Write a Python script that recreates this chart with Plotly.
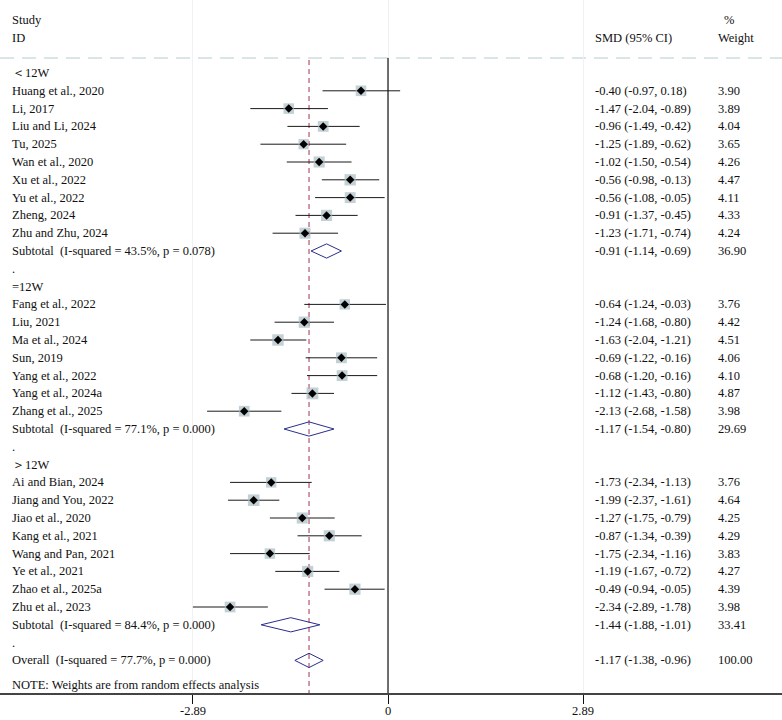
import numpy as np
import plotly.graph_objects as go

# ---------------- data ----------------
group_names = ["＜12W", "=12W", "＞12W"]

g1_studies = ["Huang et al., 2020", "Li, 2017", "Liu and Li, 2024", "Tu, 2025", "Wan et al., 2020",
              "Xu et al., 2022", "Yu et al., 2022", "Zheng, 2024", "Zhu and Zhu, 2024"]
g1_smd = [-0.40, -1.47, -0.96, -1.25, -1.02, -0.56, -0.56, -0.91, -1.23]
g1_lo = [-0.97, -2.04, -1.49, -1.89, -1.50, -0.98, -1.08, -1.37, -1.71]
g1_hi = [0.18, -0.89, -0.42, -0.62, -0.54, -0.13, -0.05, -0.45, -0.74]
g1_w = [3.90, 3.89, 4.04, 3.65, 4.26, 4.47, 4.11, 4.33, 4.24]

g2_studies = ["Fang et al., 2022", "Liu, 2021", "Ma et al., 2024", "Sun, 2019", "Yang et al., 2022",
              "Yang et al., 2024a", "Zhang et al., 2025"]
g2_smd = [-0.64, -1.24, -1.63, -0.69, -0.68, -1.12, -2.13]
g2_lo = [-1.24, -1.68, -2.04, -1.22, -1.20, -1.43, -2.68]
g2_hi = [-0.03, -0.80, -1.21, -0.16, -0.16, -0.80, -1.58]
g2_w = [3.76, 4.42, 4.51, 4.06, 4.10, 4.87, 3.98]

g3_studies = ["Ai and Bian, 2024", "Jiang and You, 2022", "Jiao et al., 2020", "Kang et al., 2021",
              "Wang and Pan, 2021", "Ye et al., 2021", "Zhao et al., 2025a", "Zhu et al., 2023"]
g3_smd = [-1.73, -1.99, -1.27, -0.87, -1.75, -1.19, -0.49, -2.34]
g3_lo = [-2.34, -2.37, -1.75, -1.34, -2.34, -1.67, -0.94, -2.89]
g3_hi = [-1.13, -1.61, -0.79, -0.39, -1.16, -0.72, -0.05, -1.78]
g3_w = [3.76, 4.64, 4.25, 4.29, 3.83, 4.27, 4.39, 3.98]

sub_labels = ["Subtotal  (I-squared = 43.5%, p = 0.078)",
              "Subtotal  (I-squared = 77.1%, p = 0.000)",
              "Subtotal  (I-squared = 84.4%, p = 0.000)"]
sub_smd = [-0.91, -1.17, -1.44]
sub_lo = [-1.14, -1.54, -1.88]
sub_hi = [-0.69, -0.80, -1.01]
sub_w = [36.90, 29.69, 33.41]

overall_label = "Overall  (I-squared = 77.7%, p = 0.000)"
overall_smd = -1.17
overall_lo = -1.38
overall_hi = -0.96
overall_w = 100.00

tick_vals = [-2.89, 0, 2.89]
tick_text = ["-2.89", "0", "2.89"]
note_text = "NOTE: Weights are from random effects analysis"

# ---------------- geometry ----------------
W, H = 782, 720
X0 = 388.0          # pixel of x=0
PXU = 67.5          # pixels per unit
ROW0 = 73.0
ROWH = 17.8
PLOT_BOTTOM = 693.0
FONT = "Liberation Serif"
FS = 12.5


def prow(p):
    return (p - ROW0) / ROWH


def pxx(p):
    return p / W


xr = [-X0 / PXU, (W - X0) / PXU]
yr = [prow(PLOT_BOTTOM), prow(0)]

groups = [
    (g1_studies, g1_smd, g1_lo, g1_hi, g1_w),
    (g2_studies, g2_smd, g2_lo, g2_hi, g2_w),
    (g3_studies, g3_smd, g3_lo, g3_hi, g3_w),
]

annotations = []


def add_text(px, row, text, anchor="left"):
    annotations.append(dict(x=pxx(px), xref="paper", y=row, yref="y", text=text,
                            showarrow=False, xanchor=anchor, yanchor="middle",
                            font=dict(family=FONT, size=FS, color="#111")))


def fmt_ci(e, l, h):
    return f"{e:.2f} ({l:.2f}, {h:.2f})"


LX = 10
SX = 593
WX = 716

# headers
add_text(LX, prow(20), "Study")
add_text(LX, prow(37.5), "ID")
add_text(SX, prow(37.5), "SMD (95% CI)")
add_text(722, prow(20), "%")
add_text(WX, prow(37.5), "Weight")

st_x, st_y, st_w = [], [], []
ci_x, ci_y = [], []
dia_rows = []

r = 0
for gi, (names, smd, lo, hi, w) in enumerate(groups):
    add_text(LX, r, group_names[gi])
    r += 1
    for n, e, l, h, ww in zip(names, smd, lo, hi, w):
        add_text(LX, r, n)
        add_text(SX, r, fmt_ci(e, l, h))
        add_text(WX, r, f"{ww:.2f}")
        st_x.append(e); st_y.append(r); st_w.append(ww)
        ci_x += [l, h, None]; ci_y += [r, r, None]
        r += 1
    add_text(LX, r, sub_labels[gi])
    add_text(SX, r, fmt_ci(sub_smd[gi], sub_lo[gi], sub_hi[gi]))
    add_text(WX, r, f"{sub_w[gi]:.2f}")
    dia_rows.append((sub_lo[gi], sub_smd[gi], sub_hi[gi], r))
    r += 1
    add_text(LX, r, ".")
    r += 1

add_text(LX, r, overall_label)
add_text(SX, r, fmt_ci(overall_smd, overall_lo, overall_hi))
add_text(WX, r, f"{overall_w:.2f}")
dia_rows.append((overall_lo, overall_smd, overall_hi, r))

add_text(LX, prow(685), note_text)

# x tick labels as annotations (kept inside the page)
PLOT_H = PLOT_BOTTOM
for tv, tt in zip(tick_vals, tick_text):
    annotations.append(dict(x=tv, xref="x", y=-(711.0 - PLOT_BOTTOM) / PLOT_H, yref="paper",
                            text=tt, showarrow=False, xanchor="center", yanchor="middle",
                            font=dict(family=FONT, size=FS, color="#111")))

fig = go.Figure()

# CI lines
fig.add_trace(go.Scatter(x=ci_x, y=ci_y, mode="lines",
                         line=dict(color="#1a1a1a", width=1), hoverinfo="skip"))
# weight boxes
K = 10.6 / np.sqrt(3.9)
fig.add_trace(go.Scatter(x=st_x, y=st_y, mode="markers",
                         marker=dict(symbol="square", size=[K * np.sqrt(v) for v in st_w],
                                     color="#a9bdc4", line=dict(width=0))))
# point estimates
fig.add_trace(go.Scatter(x=st_x, y=st_y, mode="markers",
                         marker=dict(symbol="diamond", size=6.5, color="black", line=dict(width=0))))
# pooled diamonds
HH = 0.4
dx, dy = [], []
for l, e, h, rr in dia_rows:
    dx += [l, e, h, e, l, None]
    dy += [rr, rr - HH, rr, rr + HH, rr, None]
fig.add_trace(go.Scatter(x=dx, y=dy, mode="lines",
                         line=dict(color="#2b2d8c", width=1), hoverinfo="skip"))

shapes = [
    # header dashed separator
    dict(type="line", xref="paper", x0=0, x1=1, yref="y", y0=prow(58), y1=prow(58),
         line=dict(color="#b3cbce", width=1.2, dash="14px,8px"), layer="below"),
    # zero line
    dict(type="line", xref="x", x0=0, x1=0, yref="y", y0=prow(58), y1=yr[0],
         line=dict(color="#111", width=1.2)),
    # overall effect line
    dict(type="line", xref="x", x0=overall_smd, x1=overall_smd, yref="y", y0=prow(60), y1=yr[0],
         line=dict(color="#a3324f", width=1, dash="5px,4px"), layer="below"),
]

fig.update_layout(
    width=W, height=H,
    margin=dict(l=0, r=0, t=0, b=H - PLOT_BOTTOM, autoexpand=False),
    paper_bgcolor="white", plot_bgcolor="white",
    showlegend=False,
    annotations=annotations,
    shapes=shapes,
    xaxis=dict(range=xr, tickvals=tick_vals, ticktext=tick_text, showticklabels=False,
               ticks="outside", ticklen=9, tickwidth=1, tickcolor="#111", showline=True,
               linecolor="#444", linewidth=1.5, showgrid=True, gridcolor="#eef2f2", gridwidth=1,
               zeroline=False, fixedrange=True),
    yaxis=dict(range=yr, visible=False, showgrid=False, zeroline=False, fixedrange=True),
)

fig.write_html("out.html")
